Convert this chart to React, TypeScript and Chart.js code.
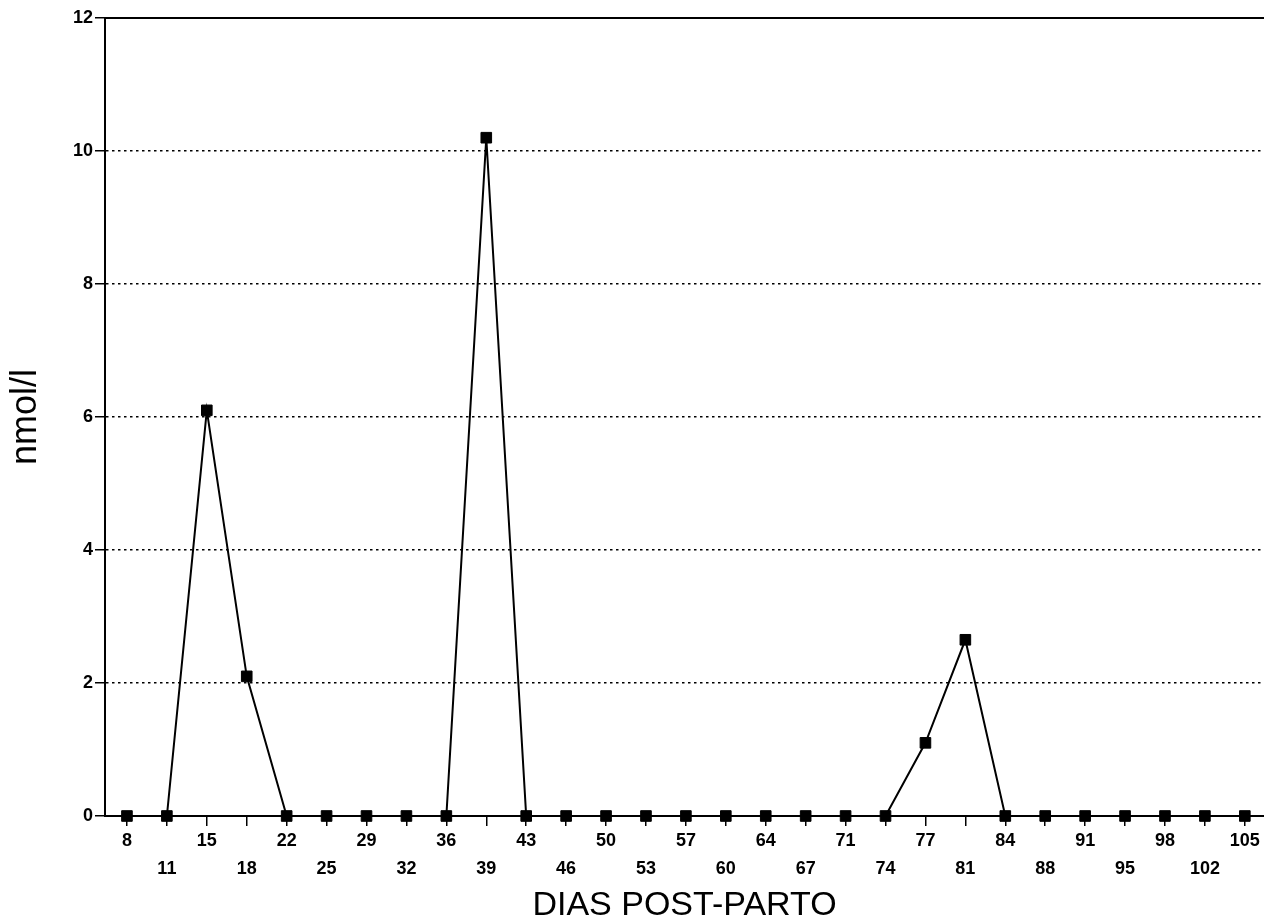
import { useEffect, useRef } from "react";
import { Chart, registerables } from "chart.js";

Chart.register(...registerables);

// Days post-partum (category labels, alternating in two rows)
const DAYS: string[] = [
  "8", "11", "15", "18", "22", "25", "29", "32", "36", "39",
  "43", "46", "50", "53", "57", "60", "64", "67", "71", "74",
  "77", "81", "84", "88", "91", "95", "98", "102", "105",
];

// Concentration values in nmol/l
const VALUES: number[] = [
  0, 0, 6.1, 2.1, 0, 0, 0, 0, 0, 10.2,
  0, 0, 0, 0, 0, 0, 0, 0, 0, 0,
  1.1, 2.65, 0, 0, 0, 0, 0, 0, 0,
];

const Y_MIN = 0;
const Y_MAX = 12;
const Y_STEP = 2;

const X_TITLE = "DIAS POST-PARTO";
const Y_TITLE = "nmol/l";

const FONT = '"Liberation Sans", Arial, Helvetica, sans-serif';

const topBorder = {
  id: "topBorder",
  afterDraw(chart: any) {
    const { ctx, chartArea } = chart;
    ctx.save();
    ctx.strokeStyle = "#000";
    ctx.lineWidth = 2;
    ctx.beginPath();
    ctx.moveTo(chartArea.left, chartArea.top);
    ctx.lineTo(chartArea.right, chartArea.top);
    ctx.stroke();
    ctx.restore();
  },
};

export default function App() {
  const ref = useRef<HTMLCanvasElement>(null);

  useEffect(() => {
    if (!ref.current) return;
    const chart = new Chart(ref.current, {
      type: "line",
      data: {
        datasets: [
          {
            data: VALUES.map((v, i) => ({ x: i, y: v })),
            borderColor: "#000",
            borderWidth: 2,
            backgroundColor: "#000",
            pointStyle: "rect",
            pointRadius: 7.5,
            pointBackgroundColor: "#000",
            pointBorderColor: "#000",
            pointBorderWidth: 1,
            tension: 0,
            fill: false,
            clip: false as any,
          },
        ],
      },
      options: {
        animation: false,
        responsive: false,
        devicePixelRatio: 1,
        layout: { autoPadding: false, padding: { top: 18, right: 0, bottom: 0, left: 0 } },
        plugins: {
          legend: { display: false },
          tooltip: { enabled: false },
        },
        scales: {
          x: {
            type: "linear",
            min: -0.55,
            max: 28.48,
            afterFit(scale: any) {
              scale.height = 107;
              scale.paddingLeft = 0;
              scale.paddingRight = 0;
            },
            ticks: {
              stepSize: 1,
              includeBounds: false,
              autoSkip: false,
              maxRotation: 0,
              minRotation: 0,
              padding: 1,
              color: "#000",
              font: { family: FONT, size: 18, weight: "bold", lineHeight: "28px" as any },
              callback(value: any) {
                const i = Math.round(Number(value));
                if (Math.abs(Number(value) - i) > 1e-6 || i < 0 || i >= DAYS.length) return "";
                return i % 2 === 0 ? [DAYS[i], ""] : ["", DAYS[i]];
              },
            },
            grid: {
              display: true,
              drawOnChartArea: false,
              drawTicks: true,
              tickLength: 10,
              color: "#000",
              lineWidth: 1.5,
            },
            border: { display: true, color: "#000", width: 2 },
            title: {
              display: true,
              text: X_TITLE,
              color: "#000",
              font: { family: FONT, size: 34, weight: "normal", lineHeight: 1 },
              padding: { top: 0, bottom: 0 },
            },
          },
          y: {
            type: "linear",
            min: Y_MIN,
            max: Y_MAX,
            afterFit(scale: any) {
              scale.width = 105;
            },
            ticks: {
              stepSize: Y_STEP,
              padding: 2,
              color: "#000",
              font: { family: FONT, size: 18, weight: "bold" },
            },
            grid: {
              display: true,
              drawOnChartArea: true,
              drawTicks: true,
              tickLength: 10,
              color: "#000",
              lineWidth: 1.5,
              tickBorderDash: [],
            } as any,
            border: { display: true, color: "#000", width: 2, dash: [2.5, 3.5] },
            title: {
              display: true,
              text: Y_TITLE,
              color: "#000",
              font: { family: FONT, size: 36, weight: "normal", lineHeight: 1 },
              padding: { top: 8, bottom: 0 },
            },
          },
        },
      },
      plugins: [topBorder],
    });
    return () => chart.destroy();
  }, []);

  return (
    <div
      style={{
        position: "fixed",
        left: 0,
        top: 0,
        width: 1264,
        height: 923,
        background: "#fff",
      }}
    >
      <canvas
        ref={ref}
        width={1264}
        height={923}
        style={{ display: "block", width: 1264, height: 923 }}
      />
    </div>
  );
}
